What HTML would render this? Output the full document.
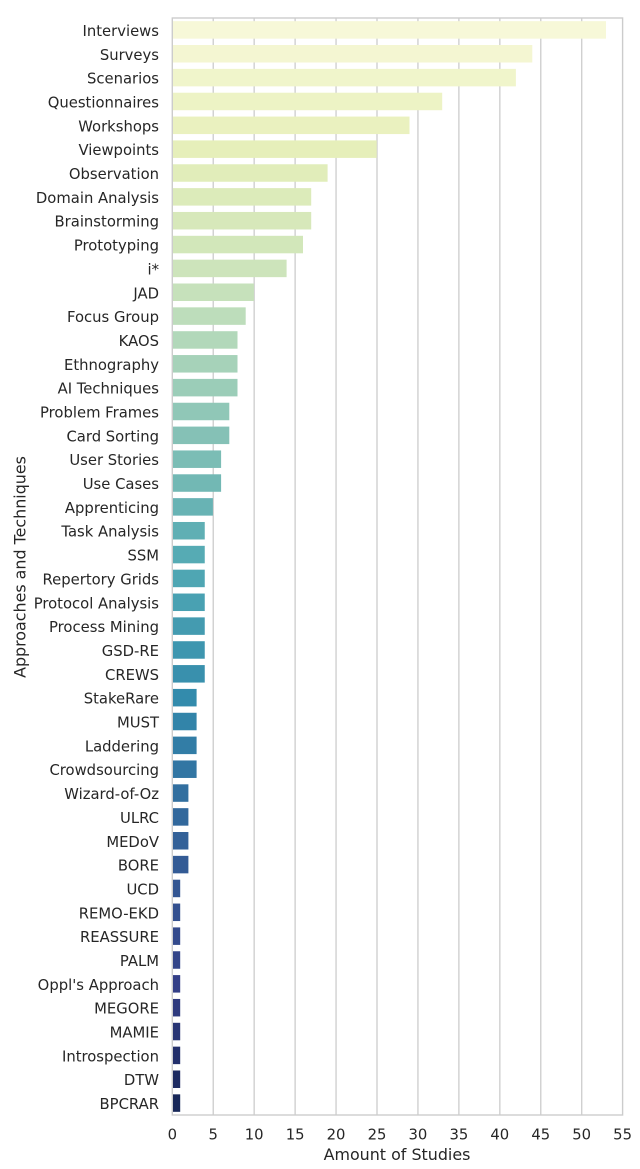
<!DOCTYPE html>
<html>
<head>
<meta charset="utf-8">
<style>
html,body{margin:0;padding:0;background:#fff;}
svg{display:block;}
text{font-family:"DejaVu Sans","Liberation Sans",sans-serif;font-size:14.8px;fill:#262626;}
text.lab{font-size:15.9px;}
</style>
</head>
<body>
<svg width="640" height="1169" viewBox="0 0 640 1169" xmlns="http://www.w3.org/2000/svg">
<rect x="0" y="0" width="640" height="1169" fill="#fff"/>
<!-- gridlines -->
<g stroke="#d0d0d0" stroke-width="1.4">
<line x1="213.24" y1="18" x2="213.24" y2="1115"/>
<line x1="254.18" y1="18" x2="254.18" y2="1115"/>
<line x1="295.12" y1="18" x2="295.12" y2="1115"/>
<line x1="336.06" y1="18" x2="336.06" y2="1115"/>
<line x1="377.0" y1="18" x2="377.0" y2="1115"/>
<line x1="417.94" y1="18" x2="417.94" y2="1115"/>
<line x1="458.88" y1="18" x2="458.88" y2="1115"/>
<line x1="499.82" y1="18" x2="499.82" y2="1115"/>
<line x1="540.76" y1="18" x2="540.76" y2="1115"/>
<line x1="581.7" y1="18" x2="581.7" y2="1115"/>
</g>
<!-- bars -->
<g>
<rect x="173" y="21.17" width="433" height="17.5" fill="rgb(247,248,216)"/>
<rect x="173" y="45.02" width="359.3" height="17.5" fill="rgb(244,246,210)"/>
<rect x="173" y="68.87" width="342.9" height="17.5" fill="rgb(240,245,203)"/>
<rect x="173" y="92.72" width="269.2" height="17.5" fill="rgb(237,243,197)"/>
<rect x="173" y="116.57" width="236.5" height="17.5" fill="rgb(234,241,191)"/>
<rect x="173" y="140.41" width="203.7" height="17.5" fill="rgb(230,239,186)"/>
<rect x="173" y="164.26" width="154.6" height="17.5" fill="rgb(225,237,186)"/>
<rect x="173" y="188.11" width="138.2" height="17.5" fill="rgb(220,235,186)"/>
<rect x="173" y="211.96" width="138.2" height="17.5" fill="rgb(215,232,186)"/>
<rect x="173" y="235.81" width="130" height="17.5" fill="rgb(210,231,186)"/>
<rect x="173" y="259.65" width="113.6" height="17.5" fill="rgb(205,228,187)"/>
<rect x="173" y="283.5" width="80.9" height="17.5" fill="rgb(198,225,187)"/>
<rect x="173" y="307.35" width="72.7" height="17.5" fill="rgb(189,221,187)"/>
<rect x="173" y="331.2" width="64.5" height="17.5" fill="rgb(178,216,186)"/>
<rect x="173" y="355.05" width="64.5" height="17.5" fill="rgb(166,210,185)"/>
<rect x="173" y="378.89" width="64.5" height="17.5" fill="rgb(155,205,184)"/>
<rect x="173" y="402.74" width="56.3" height="17.5" fill="rgb(144,199,183)"/>
<rect x="173" y="426.59" width="56.3" height="17.5" fill="rgb(133,193,182)"/>
<rect x="173" y="450.44" width="48.1" height="17.5" fill="rgb(123,189,181)"/>
<rect x="173" y="474.29" width="48.1" height="17.5" fill="rgb(114,184,180)"/>
<rect x="173" y="498.13" width="39.9" height="17.5" fill="rgb(104,179,180)"/>
<rect x="173" y="521.98" width="31.75" height="17.5" fill="rgb(95,175,180)"/>
<rect x="173" y="545.83" width="31.75" height="17.5" fill="rgb(86,171,180)"/>
<rect x="173" y="569.68" width="31.75" height="17.5" fill="rgb(79,166,179)"/>
<rect x="173" y="593.53" width="31.75" height="17.5" fill="rgb(73,161,178)"/>
<rect x="173" y="617.37" width="31.75" height="17.5" fill="rgb(68,155,176)"/>
<rect x="173" y="641.22" width="31.75" height="17.5" fill="rgb(62,150,175)"/>
<rect x="173" y="665.07" width="31.75" height="17.5" fill="rgb(57,144,173)"/>
<rect x="173" y="688.92" width="23.6" height="17.5" fill="rgb(51,139,172)"/>
<rect x="173" y="712.77" width="23.6" height="17.5" fill="rgb(50,132,169)"/>
<rect x="173" y="736.61" width="23.6" height="17.5" fill="rgb(50,125,166)"/>
<rect x="173" y="760.46" width="23.6" height="17.5" fill="rgb(50,118,163)"/>
<rect x="173" y="784.31" width="15.4" height="17.5" fill="rgb(50,111,159)"/>
<rect x="173" y="808.16" width="15.4" height="17.5" fill="rgb(50,104,156)"/>
<rect x="173" y="832.01" width="15.4" height="17.5" fill="rgb(51,97,152)"/>
<rect x="173" y="855.85" width="15.4" height="17.5" fill="rgb(51,91,149)"/>
<rect x="173" y="879.7" width="7.2" height="17.5" fill="rgb(51,86,146)"/>
<rect x="173" y="903.55" width="7.2" height="17.5" fill="rgb(51,80,143)"/>
<rect x="173" y="927.4" width="7.2" height="17.5" fill="rgb(51,74,140)"/>
<rect x="173" y="951.25" width="7.2" height="17.5" fill="rgb(51,69,137)"/>
<rect x="173" y="975.09" width="7.2" height="17.5" fill="rgb(51,63,135)"/>
<rect x="173" y="998.94" width="7.2" height="17.5" fill="rgb(46,58,126)"/>
<rect x="173" y="1022.79" width="7.2" height="17.5" fill="rgb(40,53,116)"/>
<rect x="173" y="1046.64" width="7.2" height="17.5" fill="rgb(35,48,107)"/>
<rect x="173" y="1070.49" width="7.2" height="17.5" fill="rgb(29,43,97)"/>
<rect x="173" y="1094.33" width="7.2" height="17.5" fill="rgb(24,39,88)"/>
</g>
<!-- spines -->
<rect x="172.3" y="18" width="450.3" height="1097" fill="none" stroke="#cccccc" stroke-width="1.4"/>
<!-- y tick labels -->
<g text-anchor="end">
<text x="159" y="35.92">Interviews</text>
<text x="159" y="59.77">Surveys</text>
<text x="159" y="83.62">Scenarios</text>
<text x="159" y="107.47">Questionnaires</text>
<text x="159" y="131.32">Workshops</text>
<text x="159" y="155.16">Viewpoints</text>
<text x="159" y="179.01">Observation</text>
<text x="159" y="202.86">Domain Analysis</text>
<text x="159" y="226.71">Brainstorming</text>
<text x="159" y="250.56">Prototyping</text>
<text x="159" y="274.4">i*</text>
<text x="159" y="298.25">JAD</text>
<text x="159" y="322.1">Focus Group</text>
<text x="159" y="345.95">KAOS</text>
<text x="159" y="369.8">Ethnography</text>
<text x="159" y="393.64">AI Techniques</text>
<text x="159" y="417.49">Problem Frames</text>
<text x="159" y="441.34">Card Sorting</text>
<text x="159" y="465.19">User Stories</text>
<text x="159" y="489.04">Use Cases</text>
<text x="159" y="512.88">Apprenticing</text>
<text x="159" y="536.73">Task Analysis</text>
<text x="159" y="560.58">SSM</text>
<text x="159" y="584.43">Repertory Grids</text>
<text x="159" y="608.28">Protocol Analysis</text>
<text x="159" y="632.12">Process Mining</text>
<text x="159" y="655.97">GSD-RE</text>
<text x="159" y="679.82">CREWS</text>
<text x="159" y="703.67">StakeRare</text>
<text x="159" y="727.52">MUST</text>
<text x="159" y="751.36">Laddering</text>
<text x="159" y="775.21">Crowdsourcing</text>
<text x="159" y="799.06">Wizard-of-Oz</text>
<text x="159" y="822.91">ULRC</text>
<text x="159" y="846.76">MEDoV</text>
<text x="159" y="870.6">BORE</text>
<text x="159" y="894.45">UCD</text>
<text x="159" y="918.3">REMO-EKD</text>
<text x="159" y="942.15">REASSURE</text>
<text x="159" y="966.0">PALM</text>
<text x="159" y="989.84">Oppl's Approach</text>
<text x="159" y="1013.69">MEGORE</text>
<text x="159" y="1037.54">MAMIE</text>
<text x="159" y="1061.39">Introspection</text>
<text x="159" y="1085.24">DTW</text>
<text x="159" y="1109.08">BPCRAR</text>
</g>
<!-- x tick labels -->
<g text-anchor="middle">
<text x="172.3" y="1139.5">0</text>
<text x="213.24" y="1139.5">5</text>
<text x="254.18" y="1139.5">10</text>
<text x="295.12" y="1139.5">15</text>
<text x="336.06" y="1139.5">20</text>
<text x="377.0" y="1139.5">25</text>
<text x="417.94" y="1139.5">30</text>
<text x="458.88" y="1139.5">35</text>
<text x="499.82" y="1139.5">40</text>
<text x="540.76" y="1139.5">45</text>
<text x="581.7" y="1139.5">50</text>
<text x="622.6" y="1139.5">55</text>
<text class="lab" x="397" y="1160">Amount of Studies</text>
</g>
<!-- y axis label -->
<text class="lab" x="0" y="0" text-anchor="middle" transform="translate(25.5,567) rotate(-90)">Approaches and Techniques</text>
</svg>
</body>
</html>
